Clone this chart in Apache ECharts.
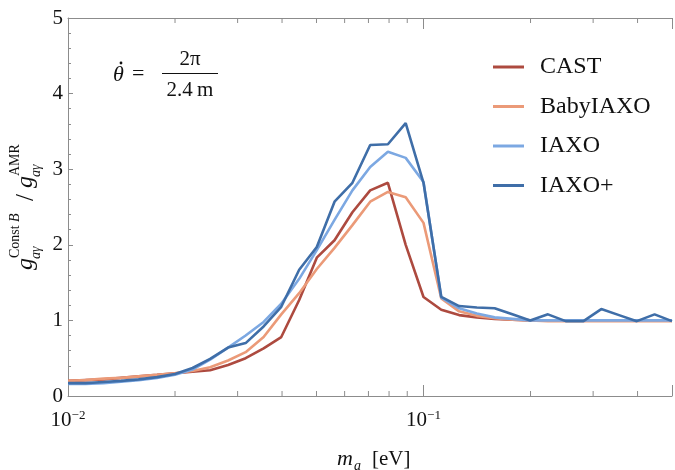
<!DOCTYPE html>
<html>
<head>
<meta charset="utf-8">
<script src="https://cdn.jsdelivr.net/npm/echarts@6/dist/echarts.min.js"></script>
<style>
html,body{margin:0;padding:0;background:#fff;}
#chart{width:675px;height:470px;}
</style>
</head>
<body>
<div id="chart"></div>
<script>
// axion mass m_a [eV] (log-spaced samples)
const masses = [0.0100, 0.0112, 0.0126, 0.0141, 0.0158, 0.0178, 0.0200, 0.0224, 0.0251, 0.0282,
                0.0316, 0.0355, 0.0398, 0.0447, 0.0501, 0.0562, 0.0631, 0.0708, 0.0794, 0.0891,
                0.1000, 0.1122, 0.1259, 0.1413, 0.1585, 0.1778, 0.1995, 0.2239, 0.2512, 0.2818,
                0.3162, 0.3548, 0.3981, 0.4467, 0.5000];
const cast = [0.20, 0.21, 0.22, 0.24, 0.26, 0.28, 0.30, 0.32, 0.34, 0.41,
              0.50, 0.63, 0.78, 1.27, 1.83, 2.06, 2.43, 2.72, 2.82, 2.00,
              1.31, 1.14, 1.07, 1.04, 1.02, 1.01, 1.00, 1.00, 1.00, 1.00,
              1.00, 1.00, 1.00, 1.00, 1.00];
const babyIaxo = [0.20, 0.21, 0.23, 0.24, 0.26, 0.28, 0.30, 0.33, 0.38, 0.47,
                  0.58, 0.78, 1.08, 1.36, 1.68, 1.96, 2.26, 2.57, 2.70, 2.63,
                  2.29, 1.29, 1.12, 1.06, 1.03, 1.01, 1.00, 0.99, 0.99, 0.99,
                  0.99, 0.99, 0.99, 0.99, 0.99];
const iaxo = [0.16, 0.16, 0.17, 0.19, 0.21, 0.24, 0.28, 0.35, 0.48, 0.64,
              0.80, 0.98, 1.22, 1.55, 1.93, 2.33, 2.72, 3.03, 3.23, 3.15,
              2.83, 1.30, 1.16, 1.09, 1.04, 1.02, 1.00, 1.00, 1.00, 1.00,
              1.00, 1.00, 1.00, 1.00, 1.00];
const iaxoPlus = [0.17, 0.17, 0.185, 0.20, 0.22, 0.25, 0.29, 0.37, 0.49, 0.64,
                  0.70, 0.92, 1.18, 1.67, 1.97, 2.57, 2.82, 3.32, 3.33, 3.61,
                  2.82, 1.31, 1.19, 1.17, 1.16, 1.08, 1.00, 1.08, 0.99, 0.99,
                  1.15, 1.07, 0.99, 1.08, 0.99];
const seriesNames = ['CAST', 'BabyIAXO', 'IAXO', 'IAXO+'];
const seriesColors = ['#ad4a3f', '#eb9a78', '#7ca8e2', '#3f6ea8'];
const xMajorTicks = [0.01, 0.1];
const xMajorExps = ['\u22122', '\u22121'];
const xMinorTicks = [0.02, 0.03, 0.04, 0.05, 0.06, 0.07, 0.08, 0.09, 0.2, 0.3, 0.4];
const yMin = 0, yMax = 5, yStep = 1;
const xMin = 0.01, xMax = 0.5;

const SERIF = '"Liberation Serif", "DejaVu Serif", serif';
const axisColor = '#8c8c8c';
const textColor = '#111';

const chart = echarts.init(document.getElementById('chart'), null, {renderer: 'canvas'});

const valueSets = [cast, babyIaxo, iaxo, iaxoPlus];
const lineSeries = valueSets.map((vals, k) => ({
  name: seriesNames[k],
  type: 'line',
  xAxisIndex: 0,
  yAxisIndex: 0,
  data: masses.map((m, i) => [m, vals[i]]),
  showSymbol: false,
  symbol: 'none',
  smooth: false,
  color: seriesColors[k],
  lineStyle: {color: seriesColors[k], width: 2.6},
  z: 2 + k,
  animation: false
}));

const minorTickSeries = {
  type: 'custom',
  name: 'minorTicks',
  silent: true,
  clip: false,
  xAxisIndex: 0,
  yAxisIndex: 0,
  z: 10,
  data: xMinorTicks.map(v => [v, yMin]),
  encode: {x: 0, y: 1},
  renderItem: function (params, api) {
    const v = api.value(0);
    const b = api.coord([v, yMin]);
    const t = api.coord([v, yMax]);
    return {
      type: 'group',
      children: [
        {type: 'line', shape: {x1: b[0], y1: b[1], x2: b[0], y2: b[1] - 5}, style: {stroke: axisColor, lineWidth: 1}},
        {type: 'line', shape: {x1: t[0], y1: t[1], x2: t[0], y2: t[1] + 5}, style: {stroke: axisColor, lineWidth: 1}}
      ]
    };
  },
  animation: false
};

function xLabel(v) {
  for (let i = 0; i < xMajorTicks.length; i++) {
    if (Math.abs(Math.log10(v) - Math.log10(xMajorTicks[i])) < 1e-6) {
      return '{b|10}{s|' + xMajorExps[i] + '}';
    }
  }
  return '';
}

// y-axis label pieces (local coords of rotated group)
const yLabelParts = [
  {t: 'g', x: -66, y: -8, size: 24, italic: true},
  {t: 'Const', x: -54, y: -19, size: 14, italic: false},
  {t: 'B', x: -18, y: -19, size: 14, italic: true},
  {t: 'a\u03b3', x: -55, y: 2, size: 14, italic: true},
  {t: '/', x: 3, y: -8, size: 25, italic: false},
  {t: 'g', x: 16, y: -8, size: 24, italic: true},
  {t: 'AMR', x: 28, y: -19, size: 14, italic: false},
  {t: 'a\u03b3', x: 27, y: 2, size: 14, italic: true}
];

const option = {
  backgroundColor: '#ffffff',
  animation: false,
  grid: {left: 68, top: 18, width: 615, height: 378, containLabel: false},
  legend: {
    data: seriesNames,
    orient: 'vertical',
    left: 488,
    top: 50,
    icon: 'rect',
    itemWidth: 31,
    itemHeight: 3,
    itemGap: 15.5,
    textStyle: {fontFamily: SERIF, fontSize: 24, color: textColor, lineHeight: 24, padding: [0, 0, 0, 11]},
    selectedMode: false
  },
  xAxis: [
    {
      type: 'log', logBase: 10, min: xMin, max: xMax, position: 'bottom',
      axisLine: {show: true, lineStyle: {color: axisColor, width: 1}},
      axisTick: {show: true, inside: true, length: 11, lineStyle: {color: axisColor, width: 1}},
      minorTick: {show: false},
      splitLine: {show: false},
      axisLabel: {
        show: true, margin: 13, color: textColor,
        formatter: xLabel,
        rich: {
          b: {fontFamily: SERIF, fontSize: 21, lineHeight: 22, color: textColor, verticalAlign: 'bottom'},
          s: {fontFamily: SERIF, fontSize: 13, lineHeight: 13, color: textColor, verticalAlign: 'top'}
        }
      }
    },
    {
      type: 'log', logBase: 10, min: xMin, max: xMax, position: 'top',
      axisLine: {show: true, lineStyle: {color: axisColor, width: 1}},
      axisTick: {show: true, inside: true, length: 11, lineStyle: {color: axisColor, width: 1}},
      axisLabel: {show: false},
      splitLine: {show: false}
    }
  ],
  yAxis: {
    type: 'value', min: yMin, max: yMax, interval: yStep,
    axisLine: {show: true, lineStyle: {color: axisColor, width: 1}},
    axisTick: {show: true, inside: true, length: 5, lineStyle: {color: axisColor, width: 1}},
    minorTick: {show: true, splitNumber: 5, length: 3, lineStyle: {color: axisColor, width: 1}},
    splitLine: {show: false},
    axisLabel: {fontFamily: SERIF, fontSize: 21, color: textColor, margin: 5}
  },
  series: lineSeries.concat([minorTickSeries]),
  graphic: [
    // annotation: theta-dot = 2pi / 2.4 m
    {type: 'text', left: 113, top: 64, style: {text: '\u03b8', font: 'italic 22px ' + SERIF, fill: textColor}},
    {type: 'circle', shape: {cx: 121, cy: 63, r: 1.4}, style: {fill: textColor}},
    {type: 'text', left: 132, top: 63, style: {text: '=', font: '22px ' + SERIF, fill: textColor}},
    {type: 'line', shape: {x1: 162, y1: 73.5, x2: 218, y2: 73.5}, style: {stroke: textColor, lineWidth: 1.1}},
    {type: 'text', x: 190, y: 59, style: {text: '2\u03c0', font: '21px ' + SERIF, fill: textColor, align: 'center', verticalAlign: 'middle'}},
    {type: 'text', x: 190, y: 90, style: {text: '2.4\u2009m', font: '21px ' + SERIF, fill: textColor, align: 'center', verticalAlign: 'middle'}},
    // x-axis name m_a [eV]
    {type: 'text', x: 337, y: 459, style: {text: 'm', font: 'italic 22px ' + SERIF, fill: textColor, verticalAlign: 'middle'}},
    {type: 'text', x: 354, y: 466, style: {text: 'a', font: 'italic 14px ' + SERIF, fill: textColor, verticalAlign: 'middle'}},
    {type: 'text', x: 372, y: 459, style: {text: '[eV]', font: '21px ' + SERIF, fill: textColor, verticalAlign: 'middle'}},
    // y-axis name
    {
      type: 'group', x: 34, y: 204, rotation: Math.PI / 2,
      children: yLabelParts.map(p => ({
        type: 'text', x: p.x, y: p.y,
        style: {text: p.t, font: (p.italic ? 'italic ' : '') + p.size + 'px ' + SERIF, fill: textColor, verticalAlign: 'middle', align: 'left'}
      }))
    }
  ]
};
chart.setOption(option);
</script>
</body>
</html>
